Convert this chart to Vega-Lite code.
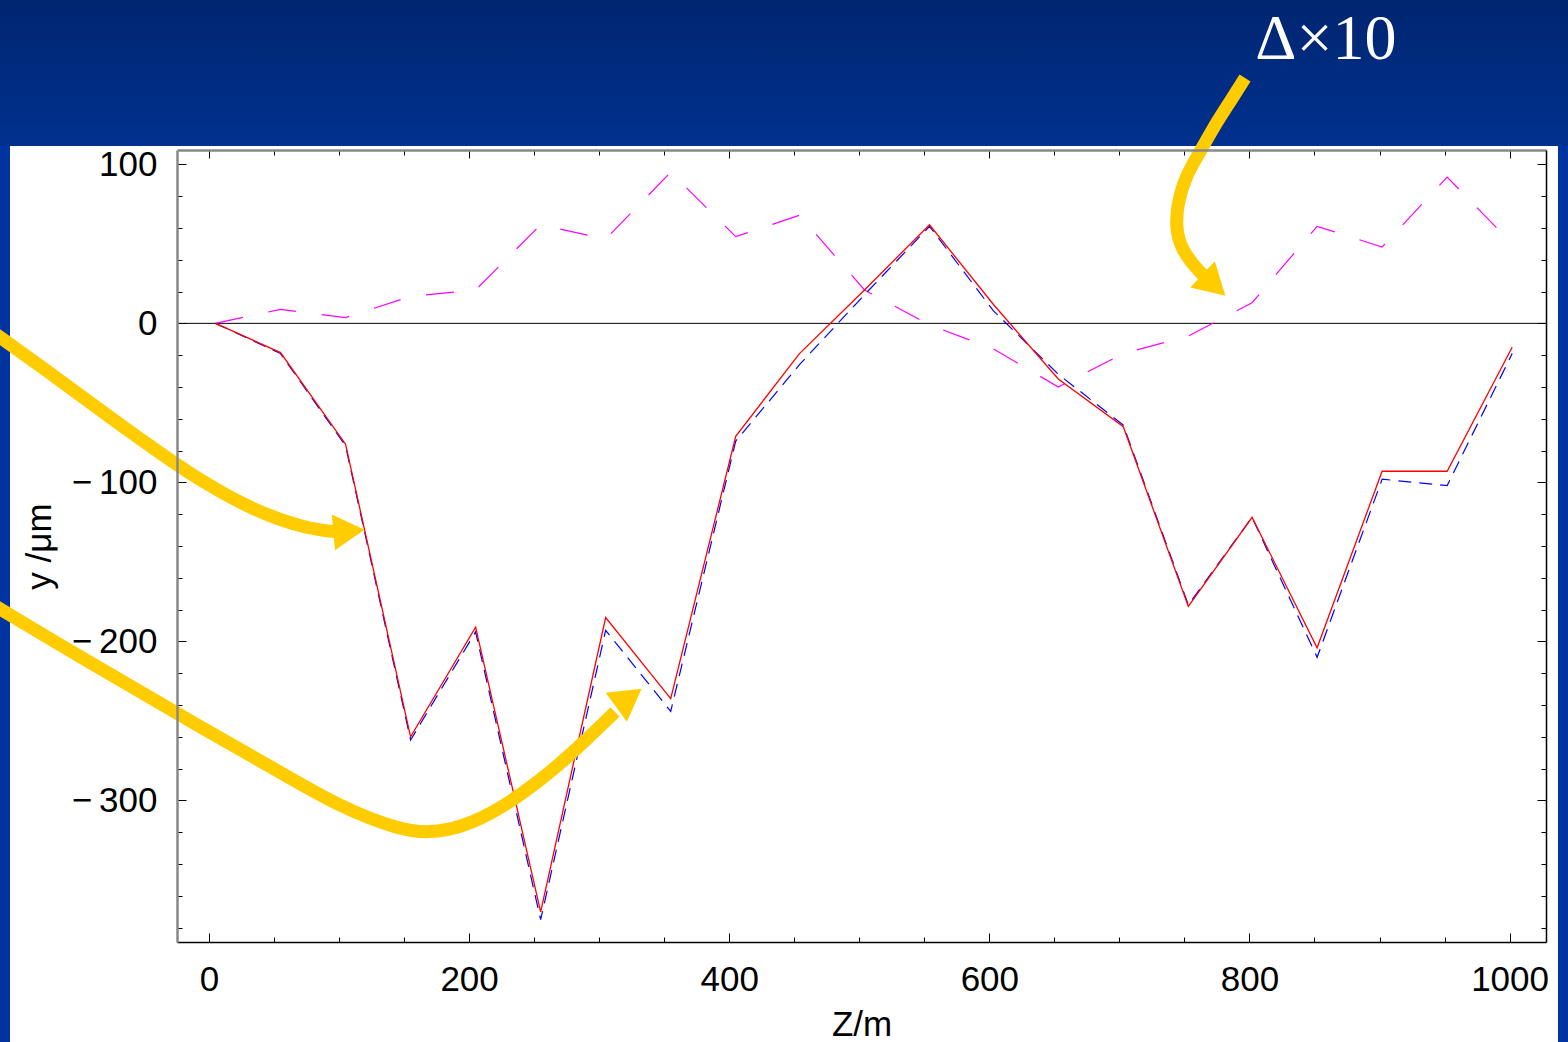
{
  "$schema": "https://vega.github.io/schema/vega-lite/v6.json",
  "width": 1369,
  "height": 792,
  "autosize": {"type": "none"},
  "padding": {"left": 177, "top": 150, "right": 22, "bottom": 100},
  "background": "#0034A0",
  "config": {
    "view": {"stroke": null},
    "axis": {"grid": false, "labelFont": "Liberation Sans", "titleFont": "Liberation Sans", "labelColor": "#000", "titleColor": "#000", "tickColor": "#000", "labelFontSize": 35, "titleFontSize": 35, "titleFontWeight": "normal", "format": "d"}
  },
  "datasets": {
    "curves": [
      {"s":"r","Z":5,"y":0},{"s":"r","Z":55,"y":-18.4},{"s":"r","Z":105,"y":-76},{"s":"r","Z":155,"y":-260},{"s":"r","Z":205,"y":-191},{"s":"r","Z":255,"y":-370},{"s":"r","Z":305,"y":-185},{"s":"r","Z":355,"y":-236},{"s":"r","Z":405,"y":-71},{"s":"r","Z":454,"y":-19},{"s":"r","Z":504,"y":21},{"s":"r","Z":554,"y":62},{"s":"r","Z":603,"y":12},{"s":"r","Z":653,"y":-35},{"s":"r","Z":703,"y":-65},{"s":"r","Z":753,"y":-178},{"s":"r","Z":802,"y":-122},{"s":"r","Z":852,"y":-204},{"s":"r","Z":902,"y":-93},{"s":"r","Z":952,"y":-93},{"s":"r","Z":1002,"y":-15},
      {"s":"b","Z":5,"y":0},{"s":"b","Z":55,"y":-19},{"s":"b","Z":105,"y":-77},{"s":"b","Z":155,"y":-262},{"s":"b","Z":205,"y":-194},{"s":"b","Z":255,"y":-375},{"s":"b","Z":305,"y":-193},{"s":"b","Z":355,"y":-244},{"s":"b","Z":405,"y":-74},{"s":"b","Z":454,"y":-26},{"s":"b","Z":504,"y":18},{"s":"b","Z":554,"y":61},{"s":"b","Z":603,"y":8},{"s":"b","Z":653,"y":-32},{"s":"b","Z":703,"y":-64},{"s":"b","Z":753,"y":-177},{"s":"b","Z":802,"y":-122},{"s":"b","Z":852,"y":-210},{"s":"b","Z":902,"y":-98},{"s":"b","Z":952,"y":-102},{"s":"b","Z":1002,"y":-19},
      {"s":"m","Z":5,"y":0},{"s":"m","Z":55,"y":8.8},{"s":"m","Z":105,"y":3.6},{"s":"m","Z":155,"y":17},{"s":"m","Z":205,"y":21},{"s":"m","Z":255,"y":62},{"s":"m","Z":305,"y":53},{"s":"m","Z":355,"y":95},{"s":"m","Z":405,"y":54.5},{"s":"m","Z":454,"y":68},{"s":"m","Z":504,"y":21},{"s":"m","Z":554,"y":-1},{"s":"m","Z":603,"y":-16},{"s":"m","Z":653,"y":-40},{"s":"m","Z":703,"y":-19},{"s":"m","Z":753,"y":-8},{"s":"m","Z":802,"y":13},{"s":"m","Z":852,"y":61},{"s":"m","Z":902,"y":48},{"s":"m","Z":952,"y":92},{"s":"m","Z":1002,"y":50}
    ],
    "arrows": [
      {"a":1,"i":0,"Z":-168.4,"y":-4.2},{"a":1,"i":1,"Z":-114.6,"y":-35.6},{"a":1,"i":2,"Z":-68.4,"y":-63.9},{"a":1,"i":3,"Z":-30,"y":-85.9},{"a":1,"i":4,"Z":-4.6,"y":-99.8},{"a":1,"i":5,"Z":33.8,"y":-117.4},{"a":1,"i":6,"Z":72.3,"y":-128.7},{"a":1,"i":7,"Z":99.2,"y":-131.2},
      {"a":2,"i":0,"Z":-168.4,"y":-175.8},{"a":2,"i":1,"Z":-114.6,"y":-202.2},{"a":2,"i":2,"Z":-68.4,"y":-224.2},{"a":2,"i":3,"Z":-6.9,"y":-253.8},{"a":2,"i":4,"Z":54.6,"y":-282.1},{"a":2,"i":5,"Z":100.7,"y":-304.1},{"a":2,"i":6,"Z":146.9,"y":-318.6},{"a":2,"i":7,"Z":169.9,"y":-320.4},{"a":2,"i":8,"Z":193,"y":-317.3},{"a":2,"i":9,"Z":223.7,"y":-306},{"a":2,"i":10,"Z":262.2,"y":-282.7},{"a":2,"i":11,"Z":287.6,"y":-263.9},{"a":2,"i":12,"Z":312.2,"y":-244.4},
      {"a":3,"i":0,"Z":796.6,"y":154.3},{"a":3,"i":1,"Z":783.5,"y":137.3},{"a":3,"i":2,"Z":772,"y":122.8},{"a":3,"i":3,"Z":762,"y":107.7},{"a":3,"i":4,"Z":751.2,"y":93.3},{"a":3,"i":5,"Z":744.3,"y":74.4},{"a":3,"i":6,"Z":743.5,"y":58.7},{"a":3,"i":7,"Z":748.1,"y":46.1},{"a":3,"i":8,"Z":758.9,"y":34.8},{"a":3,"i":9,"Z":765,"y":29.8}
    ],
    "heads": [
      {"a":1,"Z":107.6,"y":-130.6},
      {"a":2,"Z":322.9,"y":-235.6},
      {"a":3,"Z":772.7,"y":24.1}
    ]
  },
  "resolve": {"axis": {"x": "independent", "y": "independent"}},
  "layer": [
    {
      "data": {"values": [{}]},
      "mark": {"type": "rect", "fill": {"gradient": "linear", "x1": 0, "y1": 0, "x2": 0, "y2": 1, "stops": [{"offset": 0, "color": "#00246C"}, {"offset": 1, "color": "#00318F"}]}},
      "encoding": {
        "x": {"datum": -175, "type": "quantitative", "axis": null, "scale": {"domain": [-24.6, 1028], "nice": false, "zero": false}},
        "x2": {"datum": 1060},
        "y": {"datum": 215, "type": "quantitative", "axis": null, "scale": {"domain": [-389, 109], "nice": false, "zero": false}},
        "y2": {"datum": 111.5}
      }
    },
    {
      "data": {"values": [{}]},
      "mark": {"type": "rect", "fill": "#FFFFFF"},
      "encoding": {
        "x": {"datum": -153, "type": "quantitative", "axis": null, "scale": {"domain": [-24.6, 1028], "nice": false, "zero": false}},
        "x2": {"datum": 1037.2},
        "y": {"datum": 111.5, "type": "quantitative", "axis": null, "scale": {"domain": [-389, 109], "nice": false, "zero": false}},
        "y2": {"datum": -470}
      }
    },
    {
      "data": {"values": [{}]},
      "mark": {"type": "rule", "color": "#000000", "strokeWidth": 1},
      "encoding": {
        "y": {"datum": 0, "type": "quantitative", "axis": null, "scale": {"domain": [-389, 109], "nice": false, "zero": false}}
      }
    },
    {
      "data": {"name": "curves"},
      "transform": [{"filter": "datum.s === 'm'"}],
      "mark": {"type": "line", "color": "#FF00FF", "strokeWidth": 1.2, "strokeDash": [28, 26]},
      "encoding": {
        "x": {"field": "Z", "type": "quantitative", "scale": {"domain": [-24.6, 1028], "nice": false, "zero": false},
          "axis": {"orient": "top", "zindex": 3, "values": [0,50,100,150,200,250,300,350,400,450,500,550,600,650,700,750,800,850,900,950,1000], "labels": false, "title": null, "domainColor": "#888888", "domainWidth": 2.5, "tickSize": {"condition": {"test": "datum.value % 200 === 0", "value": -8}, "value": -5}}},
        "y": {"field": "y", "type": "quantitative", "scale": {"domain": [-389, 109], "nice": false, "zero": false},
          "axis": {"orient": "right", "zindex": 3, "values": [-380,-360,-340,-320,-300,-280,-260,-240,-220,-200,-180,-160,-140,-120,-100,-80,-60,-40,-20,0,20,40,60,80,100], "labels": false, "title": null, "domainColor": "#000000", "domainWidth": 1.5, "tickSize": {"condition": {"test": "datum.value % 100 === 0", "value": -9}, "value": -5}}}
      }
    },
    {
      "data": {"name": "curves"},
      "transform": [{"filter": "datum.s === 'b'"}],
      "mark": {"type": "line", "color": "#0000FF", "strokeWidth": 1.2, "strokeDash": [13, 8]},
      "encoding": {
        "x": {"field": "Z", "type": "quantitative", "axis": null, "scale": {"domain": [-24.6, 1028], "nice": false, "zero": false}},
        "y": {"field": "y", "type": "quantitative", "axis": null, "scale": {"domain": [-389, 109], "nice": false, "zero": false}}
      }
    },
    {
      "data": {"name": "curves"},
      "transform": [{"filter": "datum.s === 'r'"}],
      "mark": {"type": "line", "color": "#FF0000", "strokeWidth": 1.3},
      "encoding": {
        "x": {"field": "Z", "type": "quantitative", "scale": {"domain": [-24.6, 1028], "nice": false, "zero": false},
          "axis": {"orient": "bottom", "zindex": 3, "values": [0,50,100,150,200,250,300,350,400,450,500,550,600,650,700,750,800,850,900,950,1000], "labelExpr": "datum.value % 200 === 0 ? datum.label : ''", "labelFlush": false, "labelPadding": 29, "domainColor": "#000000", "domainWidth": 1.5, "tickSize": {"condition": {"test": "datum.value % 200 === 0", "value": -9}, "value": -5}, "title": "Z/m", "titlePadding": 10}},
        "y": {"field": "y", "type": "quantitative", "scale": {"domain": [-389, 109], "nice": false, "zero": false},
          "axis": {"orient": "left", "zindex": 3, "values": [-380,-360,-340,-320,-300,-280,-260,-240,-220,-200,-180,-160,-140,-120,-100,-80,-60,-40,-20,0,20,40,60,80,100], "labelExpr": "datum.value % 100 === 0 ? replace(datum.label, '−', '−\u2009') : ''", "labelPadding": 29, "domainColor": "#888888", "domainWidth": 2.5, "tickSize": {"condition": {"test": "datum.value % 100 === 0", "value": -9}, "value": -5}, "title": "y /μm", "titlePadding": 14}}
      }
    },
    {
      "data": {"name": "arrows"},
      "mark": {"type": "line", "color": "#FFCC00", "strokeWidth": 13, "interpolate": "basis", "strokeCap": "butt"},
      "encoding": {
        "x": {"field": "Z", "type": "quantitative", "axis": null, "scale": {"domain": [-24.6, 1028], "nice": false, "zero": false}},
        "y": {"field": "y", "type": "quantitative", "axis": null, "scale": {"domain": [-389, 109], "nice": false, "zero": false}},
        "detail": {"field": "a", "type": "nominal"},
        "order": {"field": "i", "type": "quantitative"}
      }
    },
    {
      "data": {"name": "heads"},
      "transform": [{"filter": "datum.a === 1"}],
      "mark": {"type": "point", "shape": "triangle-right", "filled": true, "color": "#FFCC00", "opacity": 1, "size": 1300, "angle": -5},
      "encoding": {
        "x": {"field": "Z", "type": "quantitative", "axis": null, "scale": {"domain": [-24.6, 1028], "nice": false, "zero": false}},
        "y": {"field": "y", "type": "quantitative", "axis": null, "scale": {"domain": [-389, 109], "nice": false, "zero": false}}
      }
    },
    {
      "data": {"name": "heads"},
      "transform": [{"filter": "datum.a === 2"}],
      "mark": {"type": "point", "shape": "triangle-right", "filled": true, "color": "#FFCC00", "opacity": 1, "size": 1300, "angle": -36},
      "encoding": {
        "x": {"field": "Z", "type": "quantitative", "axis": null, "scale": {"domain": [-24.6, 1028], "nice": false, "zero": false}},
        "y": {"field": "y", "type": "quantitative", "axis": null, "scale": {"domain": [-389, 109], "nice": false, "zero": false}}
      }
    },
    {
      "data": {"name": "heads"},
      "transform": [{"filter": "datum.a === 3"}],
      "mark": {"type": "point", "shape": "triangle-right", "filled": true, "color": "#FFCC00", "opacity": 1, "size": 1300, "angle": 43},
      "encoding": {
        "x": {"field": "Z", "type": "quantitative", "axis": null, "scale": {"domain": [-24.6, 1028], "nice": false, "zero": false}},
        "y": {"field": "y", "type": "quantitative", "axis": null, "scale": {"domain": [-389, 109], "nice": false, "zero": false}}
      }
    },
    {
      "data": {"values": [{"label": "Δ×10", "Z": 858.8, "y": 166.2}]},
      "mark": {"type": "text", "font": "Liberation Serif", "fontSize": 64, "color": "#FFFFFF", "align": "center", "baseline": "alphabetic"},
      "encoding": {
        "x": {"field": "Z", "type": "quantitative", "axis": null, "scale": {"domain": [-24.6, 1028], "nice": false, "zero": false}},
        "y": {"field": "y", "type": "quantitative", "axis": null, "scale": {"domain": [-389, 109], "nice": false, "zero": false}},
        "text": {"field": "label"}
      }
    }
  ]
}
